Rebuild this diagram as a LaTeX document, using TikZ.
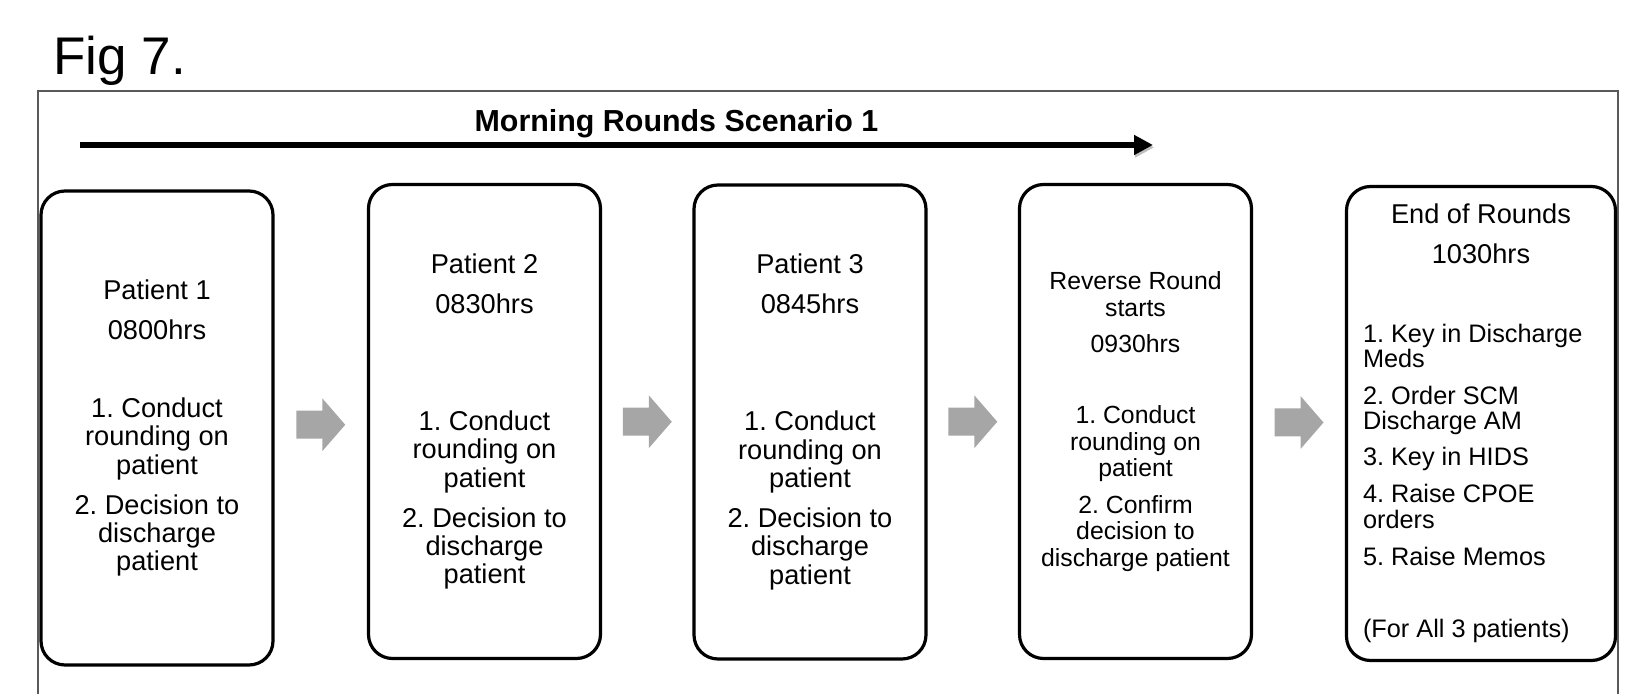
\documentclass[tikz,border=0pt]{standalone}
\usepackage{fontspec}
\setmainfont{Liberation Sans}
\usetikzlibrary{arrows.meta,calc}
\frenchspacing

\newcommand{\figfont}{\fontsize{26.5pt}{30pt}\selectfont}
\newcommand{\titlefont}{\fontsize{15.2pt}{18pt}\selectfont\bfseries}
\newcommand{\boxfont}{\fontsize{13.6pt}{14.2pt}\selectfont}
\newcommand{\revfont}{\fontsize{12.4pt}{13.15pt}\selectfont}
\newcommand{\listfont}{\fontsize{12.65pt}{12.75pt}\selectfont}
\newcommand{\headfont}{\fontsize{13.6pt}{12.75pt}\selectfont}

\definecolor{arrowgray}{HTML}{A6A6A6}
\definecolor{framegray}{HTML}{595959}

\tikzset{
  roundbox/.style={draw, line width=1.6pt, rounded corners=12pt, minimum width=116pt,
    minimum height=237pt, inner sep=0pt, align=center, font=\boxfont},
  timeline/.style={line width=3.25pt, -{Triangle[length=9.5pt,width=9.5pt]},
    preaction={draw=black!25, transform canvas={xshift=0.6pt,yshift=-1.2pt}}},
  blockarr/.pic={
    \fill[arrowgray] (-24.5,-14) -- (1.5,-14) -- (1.5,-26.5) -- (24.5,0)
      -- (1.5,26.5) -- (1.5,14) -- (-24.5,14) -- cycle;}
}

\begin{document}
\begin{tikzpicture}[x=0.5pt,y=-0.5pt]
	\useasboundingbox (0,0) rectangle (1635,694);
	
	\node[anchor=base west, inner sep=0pt, font=\figfont] (fig) at (53,75) {Fig 7.};
	\draw[framegray, line width=0.7pt] (38,700) |- (1618,91) -- (1618,700);
	
	\node[anchor=base, inner sep=0pt, font=\titlefont] (title) at (676.5,131.7) {Morning Rounds Scenario 1};
	\coordinate (t0) at (80,145);
	\coordinate (t1) at (1153,145);
	\draw[timeline] (t0) -- (t1);
	
	\begin{scope}[every node/.style={roundbox}]
		\node (p1) at (157,428) {Patient 1\\[5.8pt]0800hrs\\[24.95pt]1. Conduct\\rounding on\\patient\\[5.8pt]2. Decision to\\discharge\\patient};
		\node (p2) at (484.5,421.5) {Patient 2\\[5.8pt]0830hrs\\[44.3pt]1. Conduct\\rounding on\\patient\\[5.8pt]2. Decision to\\discharge\\patient};
		\node (p3) at (810,422) {Patient 3\\[5.8pt]0845hrs\\[44.3pt]1. Conduct\\rounding on\\patient\\[5.8pt]2. Decision to\\discharge\\patient};
		\node[font=\revfont] (rev) at (1135.5,421.5) {Reverse Round\\starts\\[4.85pt]0930hrs\\[22.7pt]1. Conduct\\rounding on\\patient\\[5.35pt]2. Confirm\\decision to\\discharge patient};
		\node[minimum width=134.5pt, text width=118pt, inner xsep=8.25pt, align=flush left, font=\listfont] (fin) at (1481,423.5)
			{{\centering\headfont End of Rounds\\[7.25pt]1030hrs\par}\vspace{26.4pt}
			1. Key in Discharge\\Meds\\[5.6pt]2. Order SCM\\Discharge AM\\[5.25pt]3. Key in HIDS\\[5.75pt]4. Raise CPOE\\orders\\[5.9pt]5. Raise Memos\\[23.25pt](For All 3 patients)};
	\end{scope}
	
	\begin{scope}
		\pic at ($(p1.east)!0.5!(p2.west)$) {blockarr};
		\pic at ($(p2.east)!0.5!(p3.west)$) {blockarr};
		\pic at ($(p3.east)!0.5!(rev.west)$) {blockarr};
		\pic at ($(rev.east)!0.5!(fin.west)$) {blockarr};
	\end{scope}
\end{tikzpicture}
\end{document}
